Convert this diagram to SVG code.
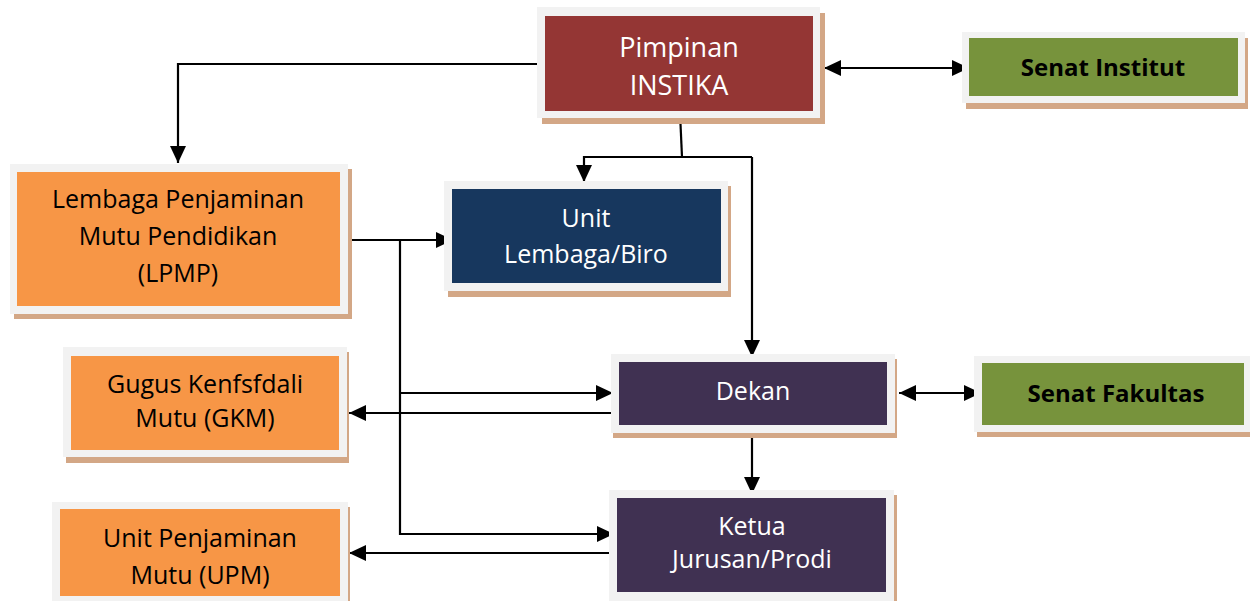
<svg xmlns="http://www.w3.org/2000/svg" width="1250" height="601" viewBox="0 0 1250 601">
<defs>
<marker id="ah" markerUnits="userSpaceOnUse" markerWidth="18" markerHeight="18" viewBox="0 0 18 18" refX="17" refY="9" orient="auto-start-reverse">
<path d="M0,1 L17,9 L0,17 Z" fill="#000"/>
</marker>
</defs>
<style>
.sh{fill:#d3a786}
.fr{fill:#f2f2f2}
.red{fill:#943634}
.navy{fill:#17375e}
.pur{fill:#403152}
.org{fill:#f79646}
.grn{fill:#77933c}
text{font-family:"Open Sans","Noto Sans","Liberation Sans",sans-serif;text-anchor:middle}
.w{fill:#fff;font-size:25px}
.k{fill:#000;font-size:25px}
.b{fill:#000;font-size:24px;font-weight:bold}
.c{fill:none;stroke:#000;stroke-width:2.2}
</style>
<rect width="1250" height="601" fill="#fff"/>

<g id="connectors">
<path class="c" d="M542,64 H178 V163" marker-end="url(#ah)"/>
<path class="c" d="M680,113 L682,157"/>
<path class="c" d="M752,157 H584 V182" marker-end="url(#ah)"/>
<path class="c" d="M752,157 V357" marker-end="url(#ah)"/>
<path class="c" d="M824,68 H969" marker-start="url(#ah)" marker-end="url(#ah)"/>
<path class="c" d="M349,240 H453" marker-end="url(#ah)"/>
<path class="c" d="M400,240 V534 H614" marker-end="url(#ah)"/>
<path class="c" d="M400,393 H613" marker-end="url(#ah)"/>
<path class="c" d="M615,413 H349" marker-end="url(#ah)"/>
<path class="c" d="M615,553 H349" marker-end="url(#ah)"/>
<path class="c" d="M752,436 V494" marker-end="url(#ah)"/>
<path class="c" d="M899,393 H981" marker-start="url(#ah)" marker-end="url(#ah)"/>
</g>

<g id="pimpinan">
<rect class="sh" x="542" y="13" width="283" height="111"/>
<rect class="fr" x="537" y="7" width="283" height="111"/>
<rect class="red" x="545" y="16" width="268" height="95"/>
<text class="w" x="679" y="57" style="font-size:27px">Pimpinan</text>
<text class="w" x="679" y="95" style="font-size:27px">INSTIKA</text>
</g>

<g id="senat-institut">
<rect class="sh" x="966" y="38" width="282" height="71"/>
<rect class="fr" x="962" y="32" width="283" height="71"/>
<rect class="grn" x="969" y="38" width="269" height="58"/>
<text class="b" x="1103" y="76">Senat Institut</text>
</g>

<g id="lpmp">
<rect class="sh" x="14" y="169" width="338" height="150"/>
<rect class="fr" x="10" y="164" width="338" height="150"/>
<rect class="org" x="17" y="172" width="323" height="134"/>
<text class="k" x="178" y="208">Lembaga Penjaminan</text>
<text class="k" x="178" y="245">Mutu Pendidikan</text>
<text class="k" x="178" y="282">(LPMP)</text>
</g>

<g id="unit-lembaga">
<rect class="sh" x="448" y="186" width="283" height="111"/>
<rect class="fr" x="444" y="181" width="284" height="110"/>
<rect class="navy" x="452" y="189" width="269" height="94"/>
<text class="w" x="586" y="227">Unit</text>
<text class="w" x="586" y="263">Lembaga/Biro</text>
</g>

<g id="dekan">
<rect class="sh" x="613" y="359" width="284" height="79"/>
<rect class="fr" x="611" y="354" width="284" height="79"/>
<rect class="pur" x="619" y="362" width="268" height="63"/>
<text class="w" x="753" y="400">Dekan</text>
</g>

<g id="senat-fakultas">
<rect class="sh" x="977" y="362" width="275" height="75"/>
<rect class="fr" x="974" y="356" width="277" height="76"/>
<rect class="grn" x="982" y="363" width="262" height="62"/>
<text class="b" x="1116" y="402">Senat Fakultas</text>
</g>

<g id="gkm">
<rect class="sh" x="66" y="352" width="283" height="111"/>
<rect class="fr" x="63" y="347" width="284" height="110"/>
<rect class="org" x="71" y="356" width="268" height="94"/>
<text class="k" x="205" y="393">Gugus Kenfsfdali</text>
<text class="k" x="205" y="427">Mutu (GKM)</text>
</g>

<g id="ketua">
<rect class="sh" x="612" y="495" width="285" height="110"/>
<rect class="fr" x="609" y="490" width="285" height="115"/>
<rect class="pur" x="617" y="498" width="269" height="94"/>
<text class="w" x="752" y="535">Ketua</text>
<text class="w" x="752" y="568">Jurusan/Prodi</text>
</g>

<g id="upm">
<rect class="sh" x="55" y="507" width="295" height="100"/>
<rect class="fr" x="52" y="502" width="296" height="103"/>
<rect class="org" x="60" y="509" width="280" height="87"/>
<text class="k" x="200" y="547">Unit Penjaminan</text>
<text class="k" x="200" y="584">Mutu (UPM)</text>
</g>
</svg>
